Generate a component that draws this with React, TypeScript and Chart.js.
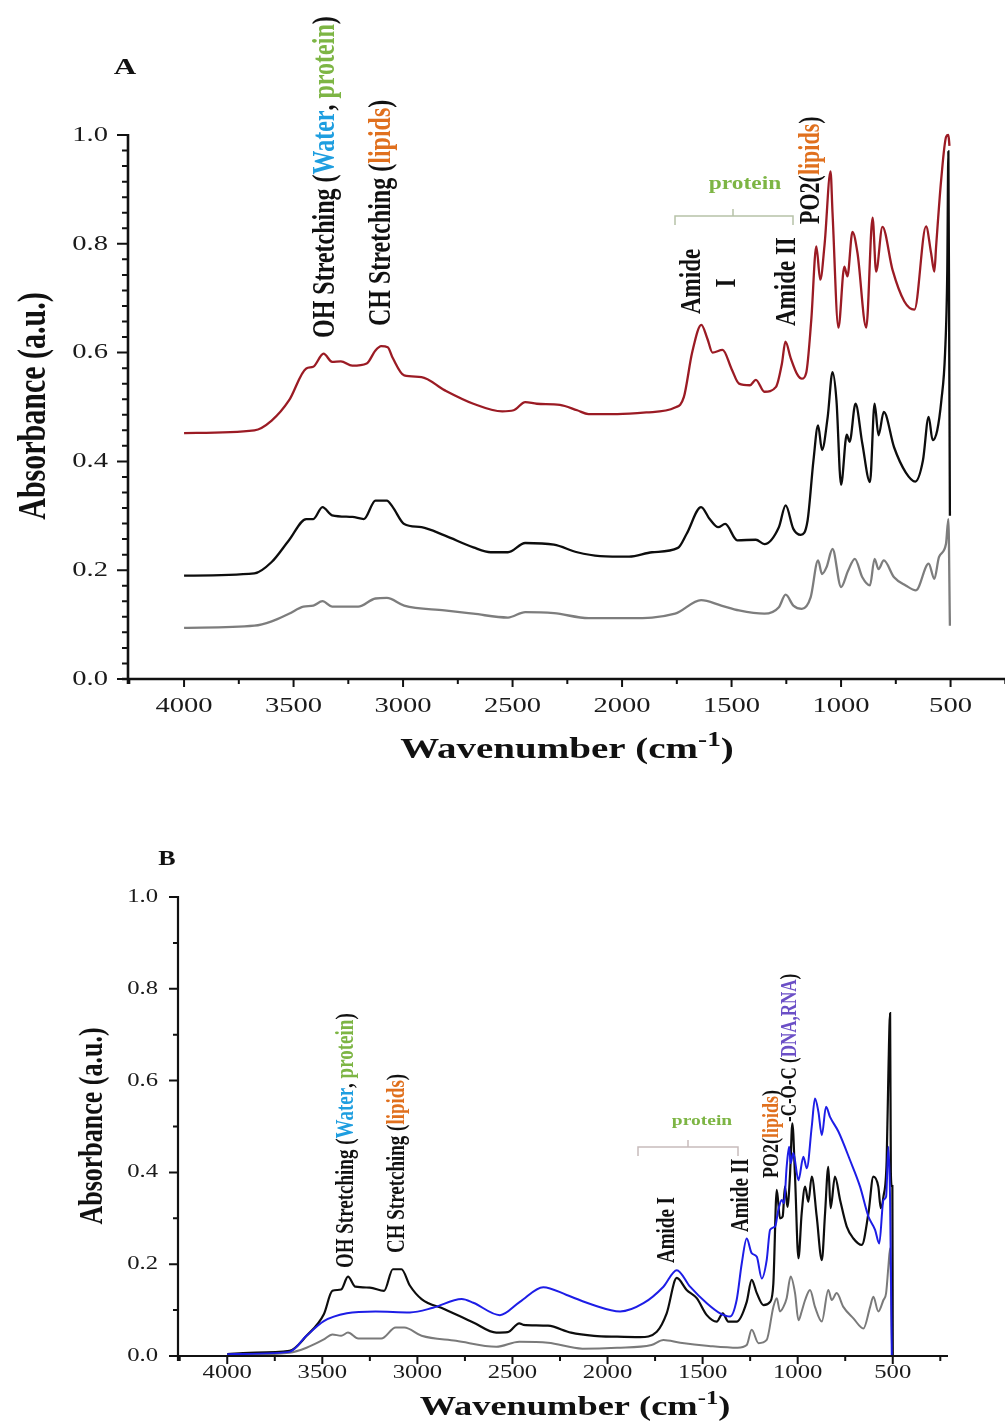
import React, { useEffect, useRef } from "react";
import { Chart, registerables } from "chart.js";
Chart.register(...registerables);

type Pt = [number, number];

// ---------- Panel A data (wavenumber, absorbance) ----------
const A_RED: Pt[] = [
  [4000, 0.452], [3679, 0.457], [3600, 0.475], [3521, 0.512], [3442, 0.571], [3410, 0.574], [3363, 0.598],
  [3324, 0.583], [3284, 0.584], [3232, 0.576], [3166, 0.58], [3126, 0.604], [3100, 0.612], [3070, 0.61],
  [3047, 0.59], [2995, 0.558], [2916, 0.555], [2811, 0.531], [2679, 0.506], [2547, 0.492], [2495, 0.494],
  [2442, 0.509], [2389, 0.506], [2284, 0.504], [2205, 0.494], [2153, 0.487], [2021, 0.487], [1889, 0.49],
  [1758, 0.499], [1718, 0.518], [1680, 0.6], [1638, 0.651], [1610, 0.625], [1587, 0.6], [1541, 0.605],
  [1500, 0.57], [1466, 0.543], [1416, 0.54], [1389, 0.55], [1350, 0.528], [1297, 0.537], [1270, 0.58],
  [1254, 0.62], [1230, 0.59], [1200, 0.56], [1179, 0.552], [1159, 0.563], [1136, 0.66], [1113, 0.795],
  [1095, 0.734], [1075, 0.8], [1048, 0.933], [1039, 0.857], [1012, 0.646], [985, 0.758], [971, 0.74],
  [948, 0.822], [925, 0.783], [885, 0.646], [856, 0.848], [840, 0.749], [811, 0.831], [765, 0.752],
  [711, 0.694], [665, 0.679], [612, 0.832], [589, 0.783], [574, 0.749], [566, 0.795], [543, 0.917],
  [520, 0.997], [510, 1.0], [505, 0.98],
];
const A_BLACK: Pt[] = [
  [4000, 0.19], [3679, 0.194], [3600, 0.215], [3521, 0.255], [3442, 0.294], [3410, 0.294], [3368, 0.316],
  [3324, 0.301], [3232, 0.298], [3179, 0.294], [3126, 0.328], [3074, 0.328], [3047, 0.316], [2995, 0.285],
  [2916, 0.279], [2811, 0.264], [2679, 0.242], [2600, 0.233], [2521, 0.233], [2442, 0.25], [2311, 0.247],
  [2205, 0.233], [2100, 0.226], [1968, 0.225], [1863, 0.233], [1745, 0.241], [1705, 0.267], [1639, 0.316],
  [1600, 0.294], [1561, 0.279], [1529, 0.285], [1474, 0.255], [1389, 0.256], [1350, 0.248], [1284, 0.279],
  [1253, 0.319], [1218, 0.276], [1184, 0.265], [1153, 0.291], [1126, 0.402], [1105, 0.466], [1087, 0.421],
  [1061, 0.482], [1039, 0.564], [1021, 0.512], [1000, 0.357], [974, 0.449], [961, 0.436], [934, 0.506],
  [903, 0.433], [868, 0.362], [847, 0.506], [829, 0.448], [805, 0.491], [758, 0.426], [705, 0.38],
  [661, 0.363], [626, 0.402], [600, 0.482], [582, 0.439], [561, 0.457], [542, 0.512], [525, 0.6],
  [515, 0.75], [510, 0.97], [506, 0.6], [503, 0.3],
];
const A_GRAY: Pt[] = [
  [4000, 0.094], [3679, 0.098], [3600, 0.106], [3521, 0.12], [3455, 0.133], [3410, 0.135], [3368, 0.143],
  [3324, 0.133], [3205, 0.133], [3126, 0.148], [3074, 0.149], [2995, 0.135], [2811, 0.126], [2679, 0.12],
  [2521, 0.113], [2442, 0.123], [2311, 0.121], [2153, 0.112], [1968, 0.112], [1758, 0.12], [1639, 0.145],
  [1547, 0.135], [1466, 0.126], [1350, 0.12], [1284, 0.132], [1253, 0.155], [1218, 0.135], [1179, 0.129],
  [1139, 0.15], [1105, 0.218], [1087, 0.193], [1066, 0.206], [1039, 0.239], [1000, 0.169], [968, 0.199],
  [937, 0.221], [903, 0.187], [868, 0.172], [847, 0.221], [829, 0.202], [805, 0.218], [758, 0.187],
  [705, 0.172], [658, 0.163], [600, 0.212], [574, 0.184], [553, 0.224], [521, 0.248], [510, 0.294],
  [503, 0.098],
];

// ---------- Panel B data ----------
const B_BLUE: Pt[] = [
  [4000, 0.004], [3673, 0.009], [3583, 0.044], [3492, 0.076], [3371, 0.093], [3220, 0.097], [3039, 0.095],
  [2918, 0.105], [2767, 0.124], [2706, 0.116], [2566, 0.089], [2461, 0.118], [2338, 0.15], [2215, 0.133],
  [2075, 0.111], [1934, 0.097], [1811, 0.115], [1706, 0.151], [1636, 0.187], [1566, 0.151], [1478, 0.115],
  [1408, 0.093], [1356, 0.086], [1321, 0.122], [1294, 0.202], [1268, 0.256], [1242, 0.224], [1215, 0.216],
  [1189, 0.169], [1163, 0.209], [1145, 0.275], [1119, 0.282], [1102, 0.318], [1084, 0.34], [1072, 0.333],
  [1058, 0.412], [1045, 0.456], [1037, 0.42], [1023, 0.442], [996, 0.383], [970, 0.434], [952, 0.409],
  [926, 0.5], [909, 0.561], [891, 0.532], [873, 0.481], [851, 0.543], [830, 0.521], [786, 0.489],
  [725, 0.427], [672, 0.369], [628, 0.304], [593, 0.275], [571, 0.245], [549, 0.34], [535, 0.347],
  [523, 0.456], [514, 0.34], [505, 0.0],
];
const B_BLACK: Pt[] = [
  [4000, 0.004], [3885, 0.007], [3673, 0.011], [3583, 0.044], [3492, 0.091], [3447, 0.142], [3401, 0.145],
  [3365, 0.173], [3326, 0.151], [3250, 0.149], [3175, 0.142], [3129, 0.189], [3084, 0.189], [3039, 0.153],
  [2978, 0.124], [2857, 0.102], [2706, 0.073], [2585, 0.051], [2525, 0.052], [2464, 0.071], [2443, 0.068],
  [2313, 0.066], [2192, 0.051], [2071, 0.044], [1950, 0.042], [1829, 0.041], [1741, 0.053], [1689, 0.093],
  [1636, 0.17], [1584, 0.144], [1531, 0.126], [1478, 0.089], [1426, 0.075], [1394, 0.093], [1365, 0.075],
  [1321, 0.075], [1268, 0.118], [1242, 0.166], [1215, 0.137], [1180, 0.111], [1145, 0.118], [1128, 0.158],
  [1110, 0.362], [1093, 0.3], [1079, 0.304], [1067, 0.369], [1054, 0.325], [1040, 0.398], [1028, 0.507],
  [1014, 0.391], [996, 0.213], [979, 0.311], [961, 0.369], [944, 0.336], [926, 0.391], [900, 0.304],
  [873, 0.209], [856, 0.311], [839, 0.412], [827, 0.322], [804, 0.391], [777, 0.34], [742, 0.282],
  [707, 0.256], [663, 0.242], [628, 0.311], [602, 0.391], [576, 0.369], [563, 0.322], [549, 0.347],
  [532, 0.427], [523, 0.616], [514, 0.747], [510, 0.4], [505, 0.37], [502, 0.37], [500, 0.0],
];
const B_GRAY: Pt[] = [
  [4000, 0.001], [3673, 0.007], [3583, 0.018], [3492, 0.036], [3447, 0.047], [3401, 0.044], [3365, 0.051],
  [3311, 0.038], [3190, 0.038], [3114, 0.062], [3069, 0.062], [2978, 0.044], [2797, 0.033], [2585, 0.02],
  [2464, 0.031], [2313, 0.029], [2132, 0.016], [1950, 0.018], [1769, 0.024], [1706, 0.035], [1618, 0.029],
  [1467, 0.022], [1316, 0.018], [1268, 0.024], [1242, 0.057], [1206, 0.028], [1163, 0.035], [1128, 0.107],
  [1110, 0.126], [1093, 0.097], [1075, 0.107], [1058, 0.126], [1037, 0.173], [1014, 0.137], [996, 0.078],
  [979, 0.097], [961, 0.122], [935, 0.144], [909, 0.107], [873, 0.075], [839, 0.144], [821, 0.122],
  [795, 0.137], [760, 0.107], [707, 0.082], [654, 0.06], [619, 0.107], [602, 0.129], [576, 0.097],
  [549, 0.122], [535, 0.137], [523, 0.195], [514, 0.235], [505, 0.04], [502, 0.0],
];

// ---------- Ticks ----------
const X_MAJOR = [4000, 3500, 3000, 2500, 2000, 1500, 1000, 500];
const X_MINOR = [4250, 3750, 3250, 2750, 2250, 1750, 1250, 750, 250];
const Y_MAJOR = [0, 0.2, 0.4, 0.6, 0.8, 1.0];
const A_Y_MINOR_DIVS = 7;
const B_Y_MINOR_DIVS = 2;

const SERIF = "'Liberation Serif', 'Times New Roman', serif";
const C_WATER = "#1e9ee0";
const C_PROTEIN = "#7db544";
const C_LIPIDS = "#e0701e";
const C_DNA = "#6b4fc6";

type Part = { t: string; c?: string; f?: string; dy?: number };
type Label = { parts: Part[]; x: number; y: number; font: string; rot?: boolean; align?: "left" | "center" | "right"; stretch?: number };

function drawRich(ctx: CanvasRenderingContext2D, l: Label) {
  const stretch = l.stretch ?? 1.3;
  ctx.save();
  ctx.translate(l.x, l.y);
  if (l.rot) {
    ctx.rotate(-Math.PI / 2);
    ctx.scale(1, stretch);
  } else {
    ctx.scale(stretch, 1);
  }
  ctx.textBaseline = "middle";
  ctx.textAlign = "left";
  let total = 0;
  const widths = l.parts.map((p) => {
    ctx.font = p.f || l.font;
    const w = ctx.measureText(p.t).width;
    total += w;
    return w;
  });
  const align = l.align || "center";
  let cur = align === "left" ? 0 : align === "center" ? -total / 2 : -total;
  l.parts.forEach((p, i) => {
    ctx.font = p.f || l.font;
    ctx.fillStyle = p.c || "#111";
    ctx.fillText(p.t, cur, p.dy || 0);
    cur += widths[i];
  });
  ctx.restore();
}

type Spec = {
  axisWidth: number;
  yMinorDivs: number;
  tickFont: string;
  xLabelDy: number;
  yLabelGap: number;
  yMajorLen: number;
  yMinorLen: number;
  labels: Label[];
  brackets: { x1: number; x2: number; y: number; mid: number; color: string }[];
};

function makeOverlay(spec: Spec) {
  return {
    id: "overlay",
    afterDatasetsDraw(chart: any) {
      const ctx: CanvasRenderingContext2D = chart.ctx;
      const xs = chart.scales.x;
      const ys = chart.scales.y;
      const area = chart.chartArea;
      const bottom = ys.getPixelForValue(0);
      const left = area.left;
      ctx.save();
      ctx.strokeStyle = "#111";
      ctx.lineWidth = spec.axisWidth;
      ctx.lineCap = "butt";
      // axes lines
      ctx.beginPath();
      ctx.moveTo(left, ys.getPixelForValue(1) - 1);
      ctx.lineTo(left, bottom + 5);
      ctx.moveTo(left - 6, bottom);
      ctx.lineTo(area.right + 2, bottom);
      ctx.stroke();
      // x ticks
      ctx.lineWidth = 2;
      ctx.beginPath();
      X_MAJOR.forEach((t) => {
        const px = xs.getPixelForValue(t);
        ctx.moveTo(px, bottom);
        ctx.lineTo(px, bottom + 8);
      });
      X_MINOR.forEach((t) => {
        const px = xs.getPixelForValue(t);
        if (px < area.left - 2 || px > area.right + 2) return;
        ctx.moveTo(px, bottom);
        ctx.lineTo(px, bottom + 5);
      });
      // y ticks
      for (let i = 0; i < Y_MAJOR.length; i++) {
        const v = Y_MAJOR[i];
        const py = ys.getPixelForValue(v);
        ctx.moveTo(left, py);
        ctx.lineTo(left - spec.yMajorLen, py);
        if (i < Y_MAJOR.length - 1) {
          const step = (Y_MAJOR[i + 1] - v) / spec.yMinorDivs;
          for (let k = 1; k < spec.yMinorDivs; k++) {
            const pm = ys.getPixelForValue(v + k * step);
            ctx.moveTo(left, pm);
            ctx.lineTo(left - spec.yMinorLen, pm);
          }
        }
      }
      ctx.stroke();
      // tick labels
      X_MAJOR.forEach((t) => {
        drawRich(ctx, { parts: [{ t: String(t), c: "#1a1a1a" }], x: xs.getPixelForValue(t), y: bottom + spec.xLabelDy, font: spec.tickFont, align: "center" });
      });
      Y_MAJOR.forEach((v) => {
        drawRich(ctx, { parts: [{ t: v.toFixed(1), c: "#1a1a1a" }], x: left - spec.yLabelGap, y: ys.getPixelForValue(v), font: spec.tickFont, align: "right" });
      });
      // brackets
      spec.brackets.forEach((b) => {
        ctx.strokeStyle = b.color;
        ctx.lineWidth = 1.5;
        ctx.beginPath();
        ctx.moveTo(b.x1, b.y + 9);
        ctx.lineTo(b.x1, b.y);
        ctx.lineTo(b.x2, b.y);
        ctx.lineTo(b.x2, b.y + 9);
        ctx.moveTo(b.mid, b.y);
        ctx.lineTo(b.mid, b.y - 7);
        ctx.stroke();
      });
      spec.labels.forEach((l) => drawRich(ctx, l));
      ctx.restore();
    },
  };
}

const bold = (px: number) => `bold ${px}px ${SERIF}`;
const reg = (px: number) => `${px}px ${SERIF}`;

const titleParts = (size: number, sup: number): Part[] => [
  { t: "Wavenumber (cm" },
  { t: "-1", f: bold(sup), dy: -size * 0.32 },
  { t: ")" },
];

const OFF_B = 800;

const SPEC_A: Spec = {
  axisWidth: 2.6,
  yMinorDivs: A_Y_MINOR_DIVS,
  tickFont: reg(22),
  xLabelDy: 27,
  yLabelGap: 20,
  yMajorLen: 11,
  yMinorLen: 6,
  brackets: [{ x1: 675, x2: 793, y: 216, mid: 733, color: "#b7c2a8" }],
  labels: [
    { parts: [{ t: "A" }], x: 125, y: 68, font: bold(24) },
    { parts: [{ t: "Absorbance (a.u.)" }], x: 35, y: 406, font: bold(30), rot: true },
    { parts: titleParts(30, 21), x: 567, y: 750, font: bold(30) },
    {
      parts: [{ t: "OH Stretching (" }, { t: "Water", c: C_WATER }, { t: ", " }, { t: "protein", c: C_PROTEIN }, { t: ")" }],
      x: 326, y: 338, font: bold(24), rot: true, align: "left",
    },
    { parts: [{ t: "CH Stretching (" }, { t: "lipids", c: C_LIPIDS }, { t: ")" }], x: 382, y: 326, font: bold(24), rot: true, align: "left" },
    { parts: [{ t: "protein", c: C_PROTEIN }], x: 745, y: 184, font: bold(18) },
    { parts: [{ t: "Amide" }], x: 692, y: 314, font: bold(23), rot: true, align: "left" },
    { parts: [{ t: "I" }], x: 727, y: 283, font: bold(23), rot: true, align: "center" },
    { parts: [{ t: "Amide II" }], x: 787, y: 326, font: bold(23), rot: true, align: "left" },
    { parts: [{ t: "PO2(" }, { t: "lipids", c: C_LIPIDS }, { t: ")" }], x: 812, y: 224, font: bold(22), rot: true, align: "left" },
  ],
};

const SPEC_B: Spec = {
  axisWidth: 2.2,
  yMinorDivs: B_Y_MINOR_DIVS,
  tickFont: reg(19),
  xLabelDy: 17,
  yLabelGap: 20,
  yMajorLen: 9,
  yMinorLen: 5,
  brackets: [{ x1: 638, x2: 738, y: 1147 - OFF_B, mid: 688, color: "#c8bcbc" }],
  labels: [
    { parts: [{ t: "B" }], x: 167, y: 860 - OFF_B, font: bold(20) },
    { parts: [{ t: "Absorbance (a.u.)" }], x: 93, y: 1126 - OFF_B, font: bold(26), rot: true },
    { parts: titleParts(28, 19), x: 575, y: 1408 - OFF_B, font: bold(28) },
    {
      parts: [{ t: "OH Stretching (" }, { t: "Water", c: C_WATER }, { t: ", " }, { t: "protein", c: C_PROTEIN }, { t: ")" }],
      x: 347, y: 1268 - OFF_B, font: bold(19), rot: true, align: "left",
    },
    { parts: [{ t: "CH Stretching (" }, { t: "lipids", c: C_LIPIDS }, { t: ")" }], x: 398, y: 1253 - OFF_B, font: bold(19), rot: true, align: "left" },
    { parts: [{ t: "protein", c: C_PROTEIN }], x: 702, y: 1121 - OFF_B, font: bold(15) },
    { parts: [{ t: "Amide I" }], x: 668, y: 1263 - OFF_B, font: bold(19), rot: true, align: "left" },
    { parts: [{ t: "Amide II" }], x: 742, y: 1232 - OFF_B, font: bold(19), rot: true, align: "left" },
    { parts: [{ t: "PO2(" }, { t: "lipids", c: C_LIPIDS }, { t: ")" }], x: 772, y: 1178 - OFF_B, font: bold(18), rot: true, align: "left" },
    { parts: [{ t: "-C-O-C (" }, { t: "DNA,RNA", c: C_DNA }, { t: ")" }], x: 790, y: 1122 - OFF_B, font: bold(17), rot: true, align: "left" },
  ],
};

function ds(data: Pt[], color: string, width: number) {
  return {
    data: data.map(([x, y]) => ({ x, y })),
    borderColor: color,
    backgroundColor: color,
    borderWidth: width,
    pointRadius: 0,
    cubicInterpolationMode: "monotone" as const,
    clip: false as const,
  };
}

function Panel(props: {
  top: number;
  height: number;
  datasets: any[];
  padding: { left: number; right: number; top: number; bottom: number };
  xMin: number;
  xMax: number;
  spec: Spec;
}) {
  const ref = useRef<HTMLCanvasElement | null>(null);
  useEffect(() => {
    if (!ref.current) return;
    const chart = new Chart(ref.current, {
      type: "line",
      data: { datasets: props.datasets },
      options: {
        responsive: false,
        animation: false,
        devicePixelRatio: 1,
        events: [],
        layout: { padding: props.padding },
        scales: {
          x: { type: "linear", min: props.xMin, max: props.xMax, reverse: true, display: false },
          y: { type: "linear", min: 0, max: 1, display: false },
        },
        plugins: { legend: { display: false }, tooltip: { enabled: false }, title: { display: false } },
      } as any,
      plugins: [makeOverlay(props.spec) as any],
    });
    return () => chart.destroy();
  }, []);
  return (
    <canvas
      ref={ref}
      width={1005}
      height={props.height}
      style={{ position: "absolute", left: 0, top: props.top, width: 1005, height: props.height }}
    />
  );
}

export default function App() {
  const dsA = [ds(A_BLACK, "#0d0d0d", 2.3), ds(A_RED, "#9b1b24", 2.3), ds(A_GRAY, "#7d7d7d", 2.3)];
  const dsB = [ds(B_BLUE, "#1d1de6", 2), ds(B_BLACK, "#0d0d0d", 2.2), ds(B_GRAY, "#7a7a7a", 2)];
  return (
    <div style={{ position: "absolute", left: 0, top: 0, width: 1005, height: 1427, background: "#fff", overflow: "hidden" }}>
      <Panel
        top={0}
        height={800}
        datasets={dsA}
        padding={{ left: 128, right: 1, top: 135, bottom: 800 - 679 }}
        xMin={256}
        xMax={4256}
        spec={SPEC_A}
      />
      <Panel
        top={OFF_B}
        height={627}
        datasets={dsB}
        padding={{ left: 178, right: 1005 - 946, top: 897 - OFF_B, bottom: OFF_B + 627 - 1356 }}
        xMin={220}
        xMax={4259}
        spec={SPEC_B}
      />
    </div>
  );
}
